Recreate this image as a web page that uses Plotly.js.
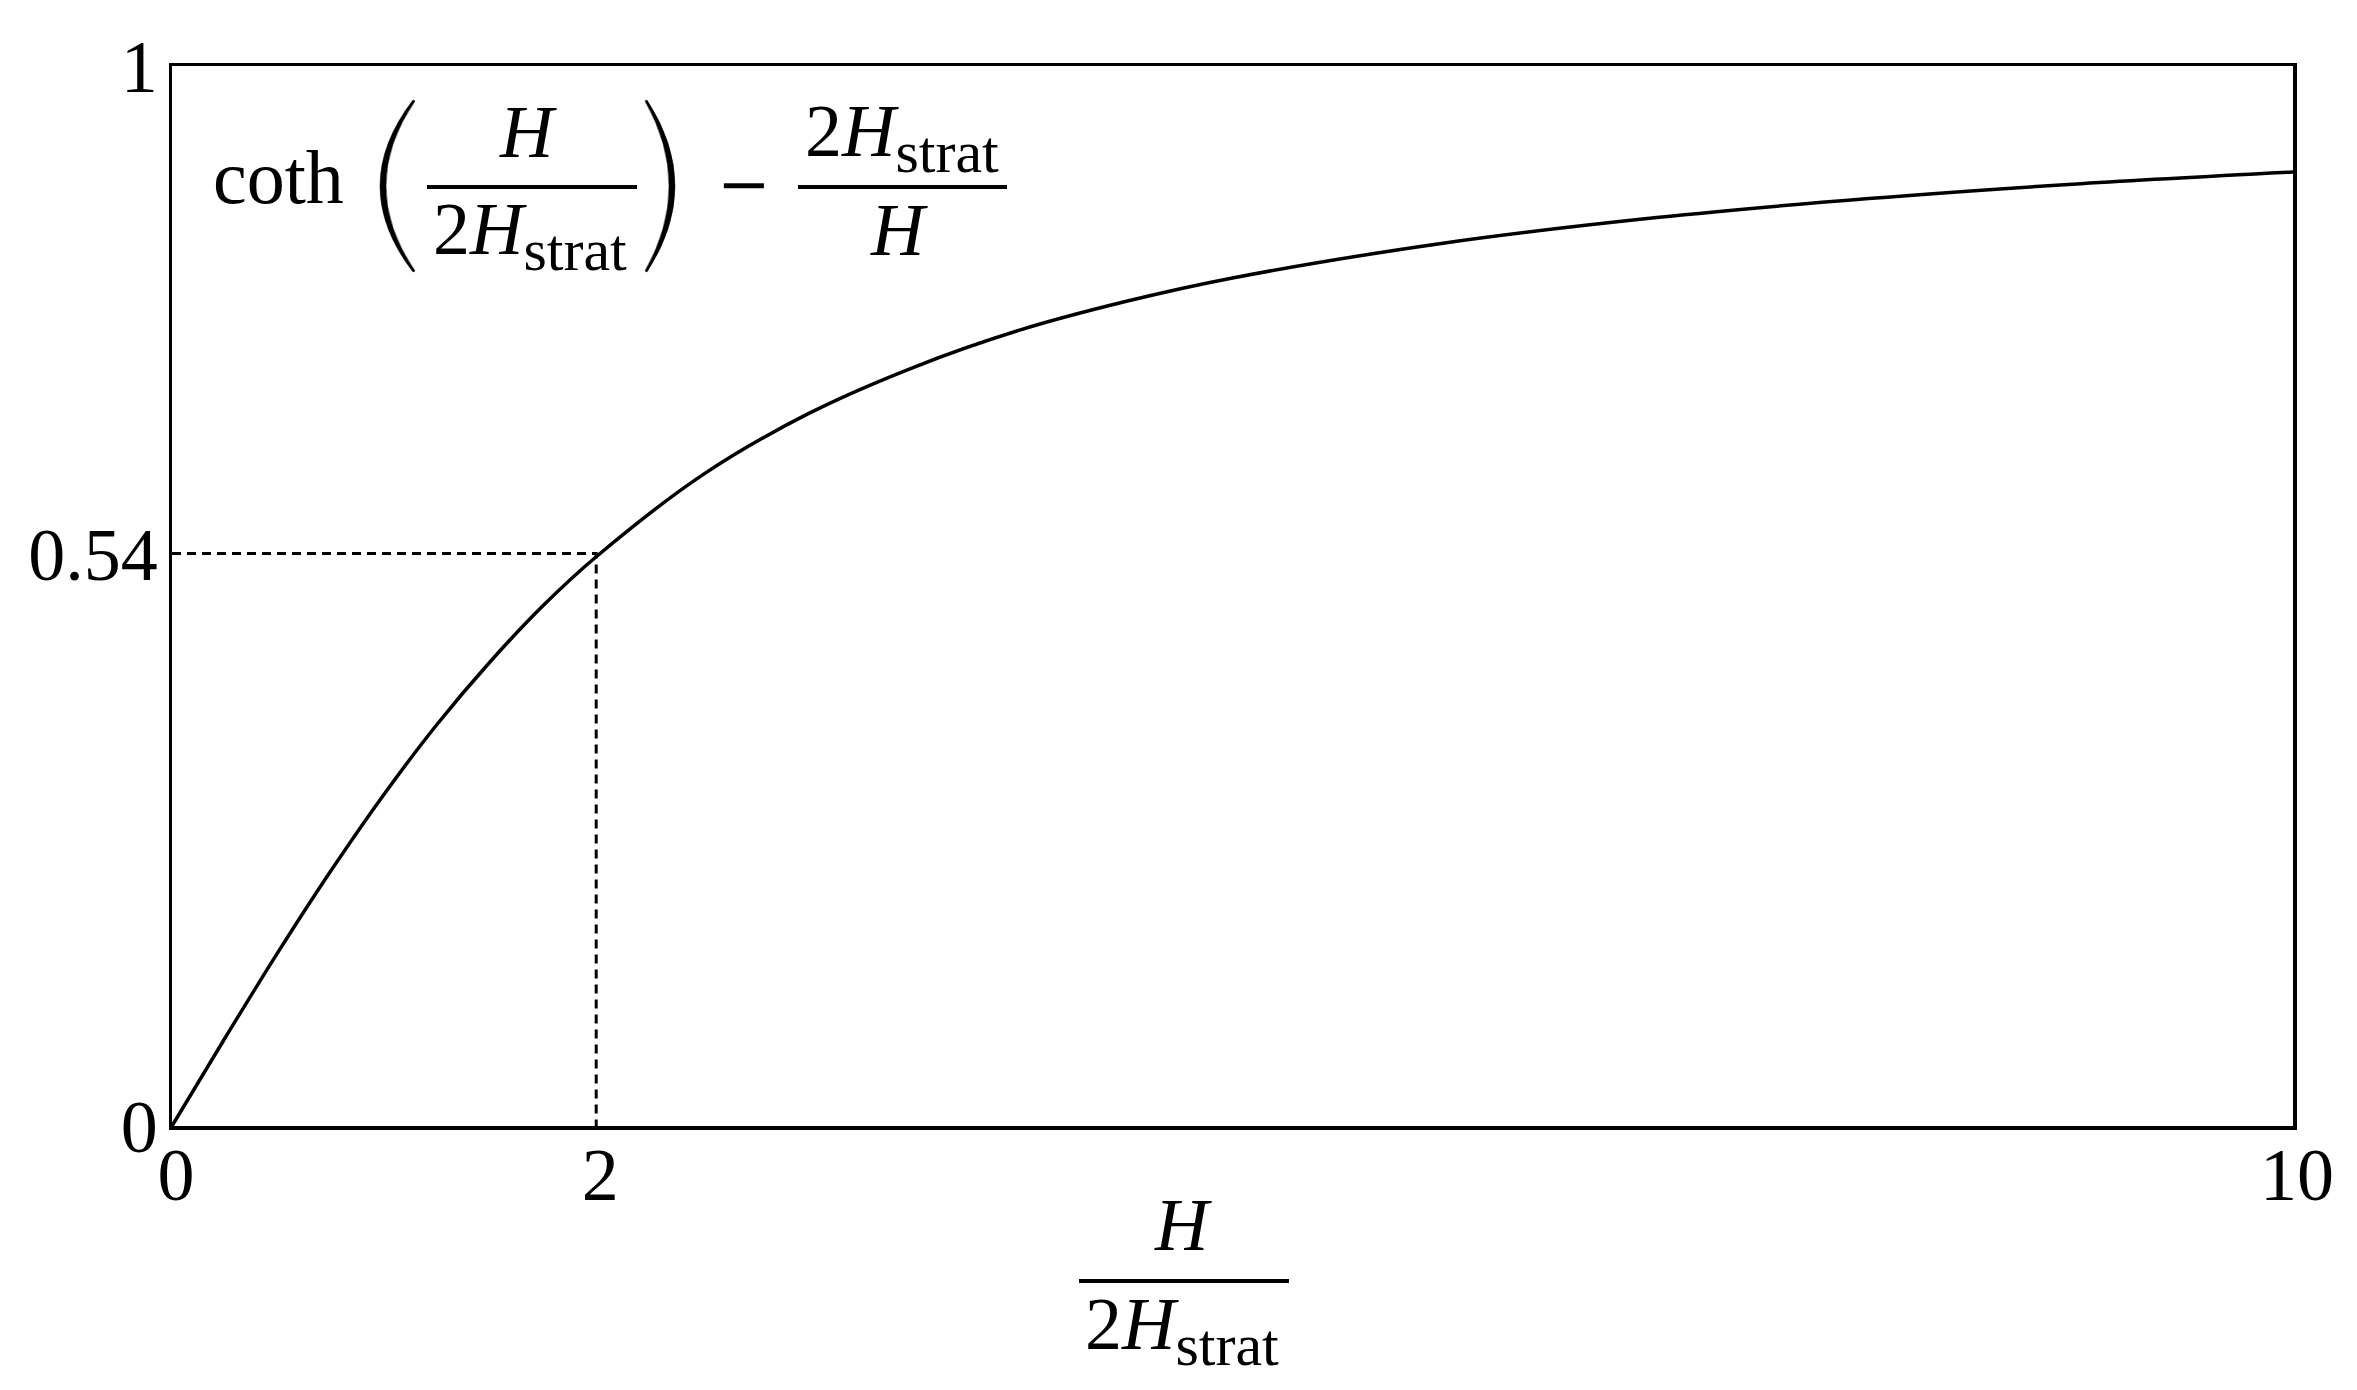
<!DOCTYPE html>
<html>
<head>
<meta charset="utf-8">
<script src="https://cdn.plot.ly/plotly-3.0.1.min.js"></script>
<style>html,body{margin:0;padding:0;background:#fff}</style>
</head>
<body>
<div id="grafico" style="width:2357px;height:1390px"></div>
<script>
// Valores, eje x = H / (2 H_strat)
var valoresX = [0, 0.25, 0.5, 0.75, 1, 1.25, 1.5, 1.75, 2, 2.5, 3, 3.5, 4, 4.5, 5, 6, 7, 8, 9, 10];
var valoresY = [0, 0.083, 0.164, 0.241, 0.313, 0.379, 0.438, 0.491, 0.537, 0.614, 0.672, 0.716, 0.751, 0.778, 0.800, 0.833, 0.857, 0.875, 0.889, 0.900];

// Guía punteada hasta el punto marcado (2, 0.54)
var guiaX = [0, 2, 2];
var guiaY = [0.54, 0.54, 0];

var ticksX = [0, 2, 10];
var ticksXTexto = ["0", "2", "10"];
var ticksY = [0, 0.54, 1];
var ticksYTexto = ["0", "0.54", "1"];

var fuente = "Liberation Serif, Times New Roman, serif";

// Bordes del área de trazado en píxeles
var izq = 172, der = 2293, arriba = 66, abajo = 1126;
function px(x) { return (x - izq) / (der - izq); }
function py(y) { return (abajo - y) / (abajo - arriba); }

function texto(t, x, y, size, xanchor, familia) {
  return {
    text: t, xref: "paper", yref: "paper", x: px(x), y: py(y),
    xanchor: xanchor || "center", yanchor: "middle", showarrow: false,
    font: { family: familia || fuente, size: size, color: "black" }
  };
}

function barra(x0, x1, y) {
  return {
    type: "line", xref: "paper", yref: "paper",
    x0: px(x0), x1: px(x1), y0: py(y), y1: py(y),
    line: { color: "black", width: 4 }
  };
}

// Paréntesis grandes como trazos rellenos
function parentesis(xe, xc1, xc2, xi, y0, y1) {
  var ym = (y0 + y1) / 2;
  var p = function (x, y) { return px(x) + "," + py(y); };
  return {
    type: "path", xref: "paper", yref: "paper",
    path: "M " + p(xe, y0) + " Q " + p(xc1, ym) + " " + p(xe, y1) +
      " L " + p(xi, y1 - 1) + " Q " + p(xc2, ym) + " " + p(xi, y0 + 1) + " Z",
    fillcolor: "black",
    line: { color: "black", width: 0.5 }
  };
}

var curva = {
  x: valoresX, y: valoresY, mode: "lines", type: "scatter",
  line: { color: "black", width: 3.5, shape: "spline", smoothing: 1 },
  cliponaxis: false, hoverinfo: "skip"
};

var guia = {
  x: guiaX, y: guiaY, mode: "lines", type: "scatter",
  line: { color: "black", width: 3, dash: "9px,6px" },
  hoverinfo: "skip"
};

var frac = "2<i>H</i><sub><span style=\"font-size:60px\">strat</span></sub>";

var layout = {
  width: 2357, height: 1390,
  margin: { l: izq, r: 2357 - der, t: arriba, b: 1390 - abajo },
  paper_bgcolor: "white", plot_bgcolor: "white",
  showlegend: false,
  xaxis: {
    range: [0, 10], tickvals: ticksX, ticktext: ticksXTexto,
    ticks: "", showgrid: false, zeroline: false,
    showline: true, mirror: true, linecolor: "black", linewidth: 3.5,
    ticklabelstandoff: -18, ticklabelshift: 4,
    tickfont: { family: fuente, size: 74, color: "black" }
  },
  yaxis: {
    range: [0, 1], tickvals: ticksY, ticktext: ticksYTexto,
    ticks: "", showgrid: false, zeroline: false,
    showline: true, mirror: true, linecolor: "black", linewidth: 3.5,
    ticklabelstandoff: -4,
    tickfont: { family: fuente, size: 74, color: "black" }
  },
  annotations: [
    texto("coth", 211, 177, 76, "left"),
    texto("<i>H</i>", 528, 132, 74),
    texto(frac, 530, 235, 74),
    texto("\u2212", 744, 184, 64, "center", "DejaVu Serif"),
    texto(frac, 902, 137, 74),
    texto("<i>H</i>", 899, 230, 74),
    // título del eje x
    texto("<i>H</i>", 1183, 1225, 74),
    texto(frac, 1182, 1330, 74)
  ],
  shapes: [
    barra(427, 637, 187),
    barra(798, 1007, 187),
    barra(1079, 1289, 1281),
    parentesis(413, 347, 357, 415, 100, 272),
    parentesis(647, 703, 693, 645, 100, 272)
  ]
};

Plotly.newPlot("grafico", [curva, guia], layout, { staticPlot: true });
</script>
</body>
</html>
